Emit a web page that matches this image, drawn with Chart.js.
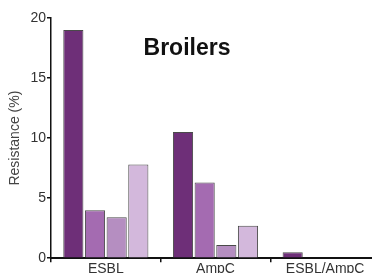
<!DOCTYPE html>
<html>
<head>
<meta charset="utf-8">
<script src="https://cdn.jsdelivr.net/npm/chart.js@4"></script>
<style>
  html, body { margin: 0; padding: 0; background: #fff; overflow: hidden; }
  #wrap { width: 380px; height: 277px; overflow: hidden; }
</style>
</head>
<body>
<div id="wrap"><canvas id="resChart" width="380" height="277"></canvas></div>
<script>
// Broilers - resistance by gene type, four groups per category
const categories = ['ESBL', 'AmpC', 'ESBL/AmpC'];
const group1 = [19.0, 10.5, 0.5];
const group2 = [4.0, 6.3, 0];
const group3 = [3.4, 1.1, 0];
const group4 = [7.8, 2.7, 0];
const yTicks = [0, 5, 10, 15, 20];

const colors = ['#6e2f78', '#a46bb1', '#b58ec1', '#d3b8dc'];
const font = 'Liberation Sans, Arial, sans-serif';

function makeSet(data, i) {
    return {
        data: data,
        backgroundColor: colors[i],
        borderColor: '#4a4a4a',
        borderWidth: ctx => (ctx.raw ? 1 : 0),
        borderSkipped: 'bottom',
        categoryPercentage: 0.79,
        barPercentage: 0.93
    };
}

// title text drawn inside the plot
const innerTitle = {
    id: 'innerTitle',
    afterDraw(chart) {
        const c = chart.ctx;
        const a = chart.chartArea;
        c.save();
        c.font = 'bold 23px ' + font;
        c.fillStyle = '#111';
        c.textAlign = 'center';
        c.textBaseline = 'middle';
        c.fillText('Broilers', a.left + 136, a.top + 31);
        c.restore();
    }
};

new Chart(document.getElementById('resChart').getContext('2d'), {
    type: 'bar',
    data: {
        labels: categories,
        datasets: [makeSet(group1, 0), makeSet(group2, 1), makeSet(group3, 2), makeSet(group4, 3)]
    },
    options: {
        responsive: false,
        animation: false,
        layout: { padding: { top: 18, right: 0, left: 0, bottom: 0 } },
        plugins: { legend: { display: false }, tooltip: { enabled: false } },
        scales: {
            x: {
                grid: { display: true, offset: true, drawOnChartArea: false, drawTicks: true, tickLength: 4, color: '#111', lineWidth: 1.5 },
                border: { display: true, color: '#111', width: 2 },
                ticks: { color: '#333', font: { family: font, size: 14 }, padding: -1, maxRotation: 0 }
            },
            y: {
                min: 0,
                max: 20,
                afterBuildTicks: s => { s.ticks = yTicks.map(v => ({ value: v })); },
                afterFit: s => { s.width = 51; },
                grid: { drawOnChartArea: false, drawTicks: true, tickLength: 4, color: '#111', lineWidth: 1.5 },
                border: { display: true, color: '#111', width: 1.5 },
                ticks: { color: '#333', font: { family: font, size: 14 }, padding: 1 },
                title: { display: true, text: 'Resistance (%)', color: '#444', font: { family: font, size: 14 }, padding: { top: 7, bottom: 0 } }
            }
        }
    },
    plugins: [innerTitle]
});
</script>
</body>
</html>
